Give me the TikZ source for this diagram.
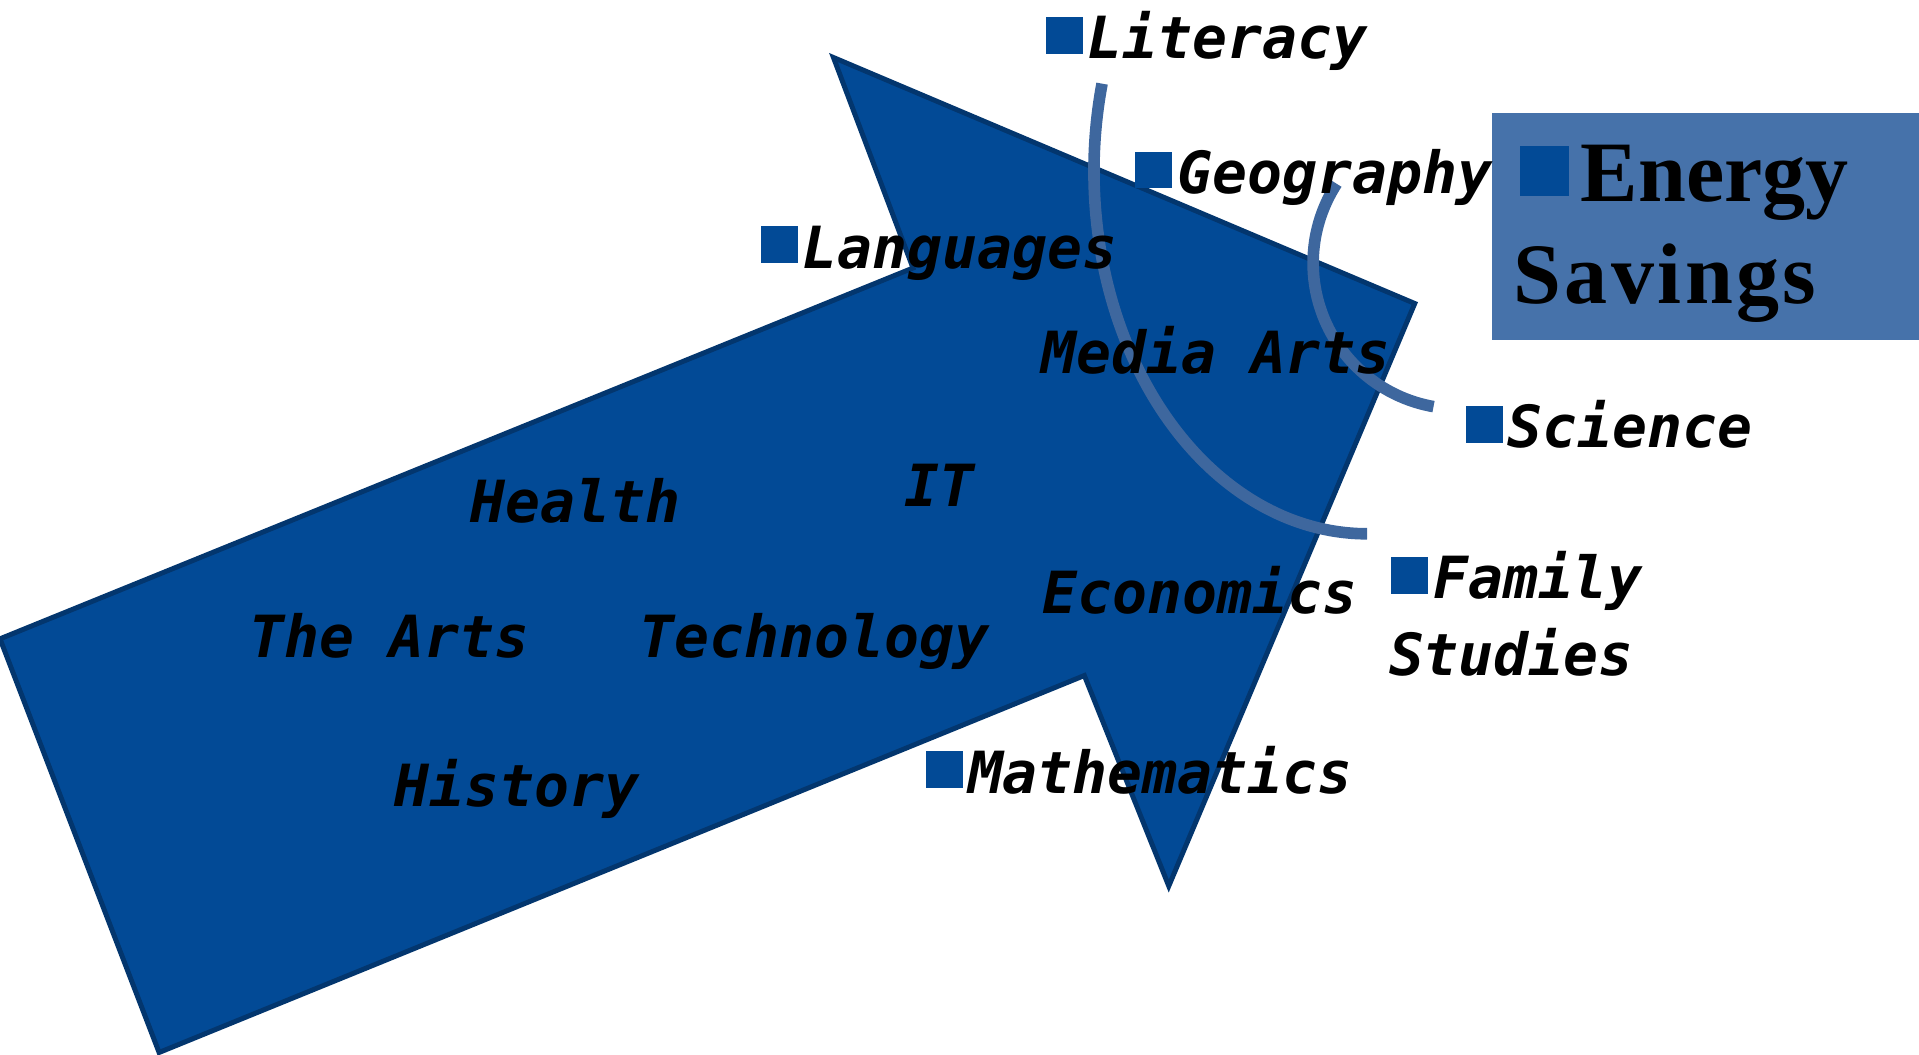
\documentclass[tikz,border=0pt]{standalone}
\usepackage{fontspec}
\usepackage{xcolor}
\usepackage{tikz}
\usetikzlibrary{positioning,calc}
\newfontfamily\subjfont{DejaVu Sans Mono}
\newfontfamily\titlefont{Liberation Serif}
\definecolor{arrowFill} {RGB}{2,74,150}
\definecolor{arrowEdge} {RGB}{3,54,110}
\definecolor{markSquare}{RGB}{2,74,150}
\definecolor{panelFill} {RGB}{70,114,170}
\definecolor{arcLine}   {RGB}{62,103,158}
\newcommand{\bulletsq}{{\color{markSquare}\rule[1.14pt]{8.54pt}{8.54pt}}\hspace{1.2pt}}
\newcommand{\bigbulletsq}{{\color{markSquare}\rule[1.42pt]{11.38pt}{11.67pt}}}

\begin{document}
\begin{tikzpicture}[x=0.01cm, y=-0.01cm,
      subj/.style={font=\subjfont\fontsize{13.5}{17.8}\selectfont\bfseries\itshape,
                   anchor=base west, inner sep=0pt},
      title/.style={font=\titlefont\fontsize{20}{23.6}\selectfont\bfseries,
                    anchor=base west, inner sep=0pt},
      arrowbody/.style={fill=arrowFill, draw=arrowEdge, line width=1.15pt},
      linkarc/.style={draw=arcLine, line width=2.7pt}]
    \useasboundingbox (0,0) rectangle (1568,862);
    % arrow and panel
    \draw[arrowbody] (0,522) -- (746,219) -- (681,47) -- (1156,248)
      -- (955,724) -- (886,552) -- (130,860) -- cycle;
    \fill[panelFill] (1219,92) rectangle (1575,278);
    % arcs
    \draw[linkarc] (1117,140) ++(166:2.23cm and 2.96cm)
      arc[start angle=166, end angle=270, x radius=2.23cm, y radius=2.96cm];
    \draw[linkarc] (1192,215) ++(147:1.19cm)
      arc[start angle=147, end angle=260, radius=1.19cm];
    % subjects
    \node[subj] (lit)    at (854,48)  {\bulletsq Literacy};
    \node[subj] (geo)    at (927,158) {\bulletsq Geography};
    \node[subj] (lang)   at (621,219) {\bulletsq Languages};
    \node[subj] (media)  at (850,305) {Media Arts};
    \node[subj] (sci)    at (1197,366) {\bulletsq Science};
    \node[subj] (it)     at (738,414) {IT};
    \node[subj] (health) at (384,427) {Health};
    \node[subj] (fam)    at (1136,489) {\bulletsq Family};
    \node[subj] (famb)   at ([xshift=-0.5pt, yshift=-17.8pt]fam.base west) {Studies};
    \node[subj] (econ)   at (851,501) {Economics};
    \node[subj] (arts)   at (203,537) {The Arts};
    \node[subj] (tech)   at (522,537) {Technology};
    \node[subj] (math)   at (756,648) {\bulletsq Mathematics};
    \node[subj] (hist)   at (322,659) {History};
    % panel text
    \node[title] (energy)  at (1241,165) {\bigbulletsq\hspace{2.85pt}Energy};
    \node[title] (energyb) at (1236,248) {\addfontfeatures{LetterSpace=4}Savings};
  \end{tikzpicture}
\end{document}
